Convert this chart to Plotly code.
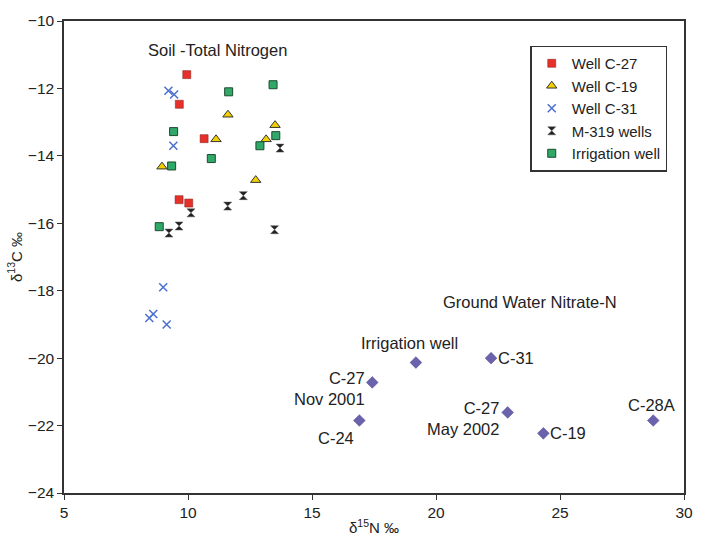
import plotly.graph_objects as go

# Soil - total nitrogen series (d15N, d13C)
c27_x = [9.95, 9.65, 10.65, 9.64, 10.03]
c27_y = [-11.59, -12.47, -13.49, -15.30, -15.40]
c19_x = [11.61, 13.51, 11.13, 13.15, 8.95, 12.73]
c19_y = [-12.78, -13.09, -13.51, -13.51, -14.32, -14.72]
c31_x = [9.21, 9.44, 9.41, 9.0, 8.6, 8.44, 9.14]
c31_y = [-12.07, -12.18, -13.70, -17.90, -18.69, -18.81, -19.0]
m319_x = [13.71, 12.23, 11.60, 10.12, 9.64, 9.23, 13.49]
m319_y = [-13.77, -15.18, -15.49, -15.69, -16.08, -16.29, -16.19]
irr_x = [11.64, 13.43, 9.42, 13.54, 12.90, 10.94, 9.34, 8.84]
irr_y = [-12.10, -11.89, -13.28, -13.40, -13.70, -14.08, -14.30, -16.10]

# Ground water nitrate-N
gw_labels = ["Irrigation well", "C-31", "C-27<br>Nov 2001", "C-24", "C-27<br>May 2002", "C-19", "C-28A"]
gw_x = [19.19, 22.22, 17.43, 16.91, 22.89, 24.33, 28.76]
gw_y = [-20.13, -20.0, -20.72, -21.85, -21.61, -22.23, -21.85]

x_ticks = [5, 10, 15, 20, 25, 30]
y_ticks = [-10, -12, -14, -16, -18, -20, -22, -24]

FONT = "Liberation Sans, Arial"
TXT = "#222222"

fig = go.Figure()
fig.add_trace(go.Scatter(x=c27_x, y=c27_y, mode="markers", name="Well C-27",
                         marker=dict(symbol="square", size=8, color="#e8302a", line=dict(color="#7a1a14", width=0.5))))
fig.add_trace(go.Scatter(x=c19_x, y=c19_y, mode="markers", name="Well C-19",
                         marker=dict(symbol="triangle-up", size=9, color="#f2d000", line=dict(color="#333333", width=1))))
fig.add_trace(go.Scatter(x=c31_x, y=c31_y, mode="markers", name="Well C-31",
                         marker=dict(symbol="x-thin-open", size=8, color="#4a6fd0", line=dict(color="#4a6fd0", width=1.5))))
fig.add_trace(go.Scatter(x=m319_x, y=m319_y, mode="markers", name="M-319 wells",
                         marker=dict(symbol="hourglass", size=8, color="#222222", line=dict(color="#555555", width=0.5))))
fig.add_trace(go.Scatter(x=irr_x, y=irr_y, mode="markers", name="Irrigation well",
                         marker=dict(symbol="square", size=8, color="#2fa868", line=dict(color="#1e4a30", width=1))))
fig.add_trace(go.Scatter(x=gw_x, y=gw_y, mode="markers", name="Ground water", showlegend=False,
                         marker=dict(symbol="diamond", size=9, color="#6a62ac", line=dict(color="#4a4488", width=0.5))))

lab_font = dict(family=FONT, size=16.5, color=TXT)
# label placement: (xanchor, yanchor, xshift, yshift, align)
placements = [
    ("center", "bottom", -6, 9, "center"),
    ("left", "middle", 5, 0, "left"),
    ("right", "top", -5, 15, "right"),
    ("right", "top", -3, -6, "right"),
    ("right", "top", -7, 15, "right"),
    ("left", "middle", 5, 0, "left"),
    ("center", "bottom", -2, 5, "center"),
]
for lab, x, y, p in zip(gw_labels, gw_x, gw_y, placements):
    fig.add_annotation(x=x, y=y, text=lab, showarrow=False, xanchor=p[0], yanchor=p[1],
                       xshift=p[2], yshift=p[3], align=p[4], font=lab_font)

fig.add_annotation(x=11.2, y=-11.2, text="Soil -Total Nitrogen", showarrow=False,
                   xanchor="center", yanchor="bottom", font=lab_font)
fig.add_annotation(x=23.8, y=-18.65, text="Ground Water Nitrate-N", showarrow=False,
                   xanchor="center", yanchor="bottom", font=lab_font)

axis_common = dict(showgrid=False, zeroline=False, showline=True, linecolor="#333333", linewidth=1.5,
                   mirror=True, ticks="outside", ticklen=5, tickcolor="#333333",
                   tickfont=dict(family=FONT, size=15.5, color=TXT))
fig.update_xaxes(range=[5, 30], tickvals=x_ticks, title=dict(text="δ<sup>15</sup>N ‰", standoff=2,
                 font=dict(family=FONT, size=15, color=TXT)), **axis_common)
fig.update_yaxes(range=[-24, -10], tickvals=y_ticks, title=dict(text="δ<sup>13</sup>C ‰", standoff=2,
                 font=dict(family=FONT, size=15, color=TXT)), **axis_common)

fig.update_layout(
    width=706, height=546,
    margin=dict(l=64, r=22, t=16, b=48),
    paper_bgcolor="white", plot_bgcolor="white",
    legend=dict(x=0.752, y=0.948, xanchor="left", yanchor="top", bordercolor="#333333", borderwidth=1.5,
                bgcolor="white", font=dict(family=FONT, size=15, color=TXT),
                itemwidth=30, tracegroupgap=0),
    showlegend=True,
)

fig.write_html("out.html")
